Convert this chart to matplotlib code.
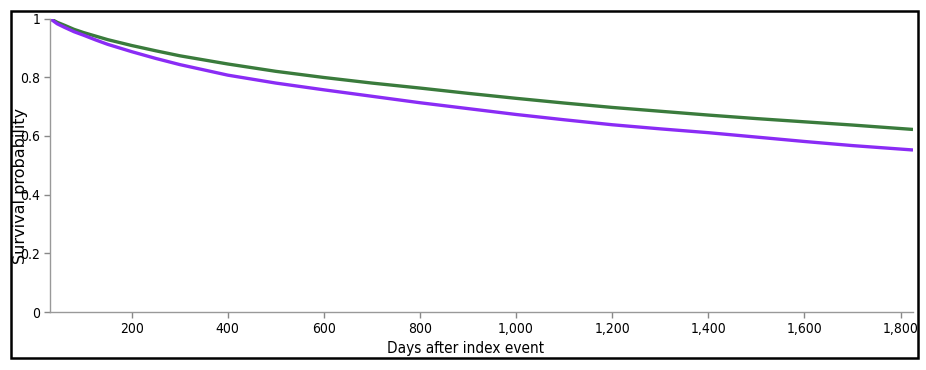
import matplotlib
matplotlib.use('Agg')
import matplotlib.pyplot as plt
from matplotlib.patches import Rectangle
from matplotlib.ticker import FuncFormatter

# Survival curves
dias = [30, 45, 60, 80, 100, 125, 150, 200, 250, 300, 400, 500, 600, 700, 800,
        900, 1000, 1100, 1200, 1300, 1400, 1500, 1600, 1700, 1826]
verde = [1.0, 0.987, 0.977, 0.963, 0.952, 0.940, 0.928, 0.908, 0.890, 0.873,
         0.845, 0.820, 0.799, 0.780, 0.763, 0.745, 0.728, 0.712, 0.697, 0.684,
         0.671, 0.659, 0.648, 0.637, 0.622]
morado = [1.0, 0.982, 0.970, 0.955, 0.943, 0.927, 0.912, 0.887, 0.864, 0.843,
          0.807, 0.780, 0.757, 0.735, 0.713, 0.693, 0.673, 0.655, 0.638, 0.624,
          0.611, 0.596, 0.581, 0.567, 0.552]
x_ticks = [200, 400, 600, 800, 1000, 1200, 1400, 1600, 1800]
y_ticks = [0, 0.2, 0.4, 0.6, 0.8, 1]

fig = plt.figure(figsize=(9.26, 3.7), dpi=100)
ax = fig.add_axes([50 / 926, 58 / 370, 863 / 926, 293.5 / 370])

ax.plot(dias, verde, color='#3a7b3c', lw=2.4, solid_capstyle='butt')
ax.plot(dias, morado, color='#8a2cf5', lw=2.4, solid_capstyle='butt')

ax.set_xlim(30, 1826)
ax.set_ylim(0, 1)
ax.set_xticks(x_ticks)
ax.set_yticks(y_ticks)
ax.xaxis.set_major_formatter(FuncFormatter(lambda v, p: f"{int(v):,}"))
ax.yaxis.set_major_formatter(FuncFormatter(lambda v, p: f"{v:g}"))

for s in ['top', 'right']:
    ax.spines[s].set_visible(False)
for s in ['left', 'bottom']:
    ax.spines[s].set_color('#999999')
    ax.spines[s].set_linewidth(1)
ax.tick_params(color='#888888', length=4, width=1, labelsize=10, pad=3)
for lbl in ax.get_xticklabels() + ax.get_yticklabels():
    lbl.set_fontstretch('condensed')

ax.set_xlabel("Days after index event", fontsize=11, fontstretch='condensed')
ax.xaxis.set_label_coords(0.481, -0.126)
ax.xaxis.label.set_va('center')
# en la referencia la etiqueta pisa los numeros del eje
ax.set_ylabel("Survival probability", fontsize=11.5)
ax.yaxis.set_label_coords(-0.034, 0.43)
ax.yaxis.label.set_va('center')

# marco negro exterior
fig.patches.append(Rectangle((11 / 926, 12 / 370), 907 / 926, 347 / 370,
                             transform=fig.transFigure, fill=False,
                             edgecolor='black', lw=1.8))

fig.savefig('out.png', dpi=100)
